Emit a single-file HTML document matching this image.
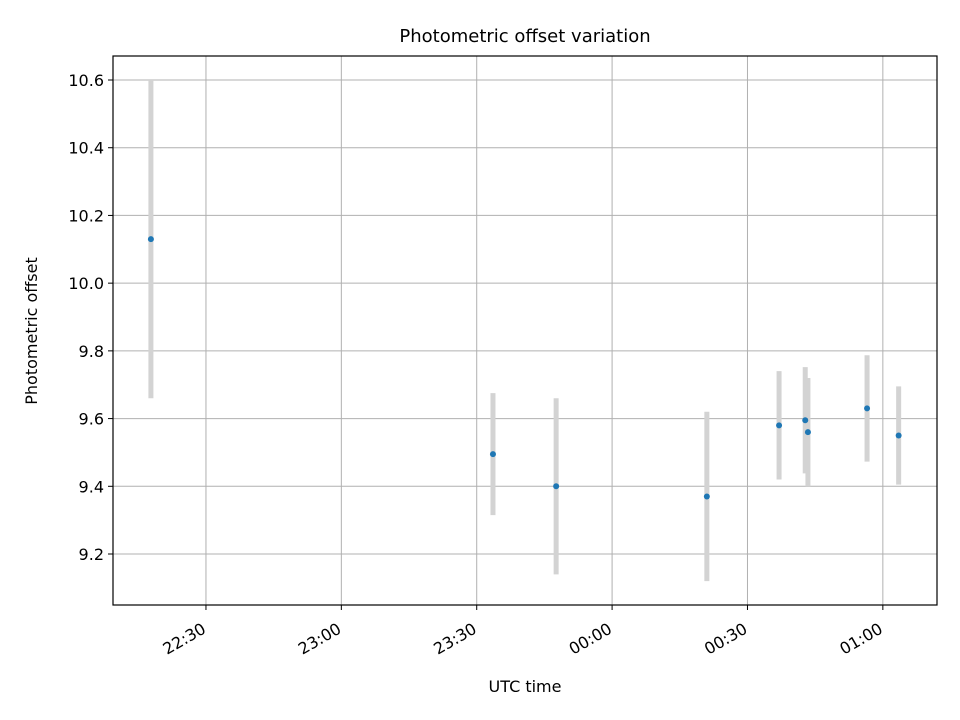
<!DOCTYPE html>
<html><head><meta charset="utf-8"><style>
body{margin:0;background:#fff}
svg{display:block;font-family:"DejaVu Sans","Liberation Sans",sans-serif}
</style></head><body>
<svg id="chart" width="960" height="720">
<rect width="960" height="720" fill="#fff"/>
<text x="525" y="42" text-anchor="middle" font-size="18">Photometric offset variation</text>
<g id="grid"></g>
<g id="bars"></g>
<g id="pts"></g>
<rect x="113" y="56" width="824" height="549" fill="none" stroke="#000" stroke-width="1.2"/>
<g id="axes" font-size="16"></g>
<text x="525" y="692" text-anchor="middle" font-size="16">UTC time</text>
<text transform="translate(37,331) rotate(-90)" text-anchor="middle" font-size="16">Photometric offset</text>
</svg>
<script>
// minutes since 22:00 UTC
const times=[17.8,93.6,107.6,141,157,162.8,163.4,176.5,183.5];
const offsets=[10.13,9.495,9.40,9.37,9.58,9.595,9.56,9.63,9.55];
const errors=[0.47,0.18,0.26,0.25,0.16,0.157,0.16,0.157,0.145];
const yTicks=[9.2,9.4,9.6,9.8,10.0,10.2,10.4,10.6];
const xTickMinutes=[30,60,90,120,150,180];
const xTickLabels=["22:30","23:00","23:30","00:00","00:30","01:00"];

const L=113,R=937,T=56,B=605;
const xMin=9.4,xMax=192,yMin=9.0494,yMax=10.6709;
const X=m=>L+(m-xMin)/(xMax-xMin)*(R-L);
const Y=v=>B-(v-yMin)/(yMax-yMin)*(B-T);
const NS="http://www.w3.org/2000/svg";
function mk(tag,attrs,parent){const e=document.createElementNS(NS,tag);for(const k in attrs)e.setAttribute(k,attrs[k]);document.getElementById(parent).appendChild(e);return e;}

yTicks.forEach(v=>{
  const y=Y(v);
  const g=mk("line",{x1:L,x2:R,y1:y,y2:y,stroke:"#b0b0b0","stroke-width":1},"grid");
  
  
  const t=mk("line",{x1:L-5,x2:L,y1:y,y2:y,stroke:"#000"},"axes");
  
  
  const l=mk("text",{x:L-9,y:y+6,"text-anchor":"end"},"axes");
  l.textContent=v.toFixed(1);
  
  
});
xTickMinutes.forEach((m,i)=>{
  const x=X(m);
  const g=mk("line",{x1:x,x2:x,y1:T,y2:B,stroke:"#b0b0b0","stroke-width":1},"grid");
  
  
  const t=mk("line",{x1:x,x2:x,y1:B,y2:B+5,stroke:"#000"},"axes");
  
  
  const l=mk("text",{x:0,y:0,"text-anchor":"end",transform:`translate(${x+1},${B+27}) rotate(-30)`},"axes");
  l.textContent=xTickLabels[i];
  
  
});
times.forEach((m,i)=>{
  const x=X(m);
  const b=mk("line",{x1:x,x2:x,y1:Y(offsets[i]+errors[i]),y2:Y(offsets[i]-errors[i]),stroke:"#d3d3d3","stroke-width":5},"bars");
  
  
  const p=mk("circle",{cx:x,cy:Y(offsets[i]),r:3,fill:"#1f77b4"},"pts");
  
  
});
</script>
</body></html>
